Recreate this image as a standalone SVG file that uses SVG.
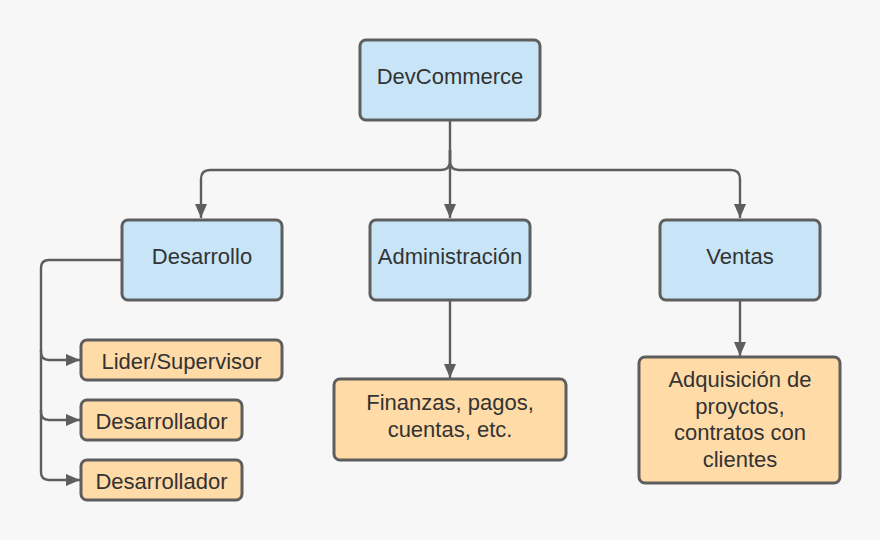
<svg xmlns="http://www.w3.org/2000/svg" width="880" height="540" viewBox="0 0 880 540">
<defs>
<style>
.blue{fill:#c7e5f7;stroke:#5e5e5e;stroke-width:3}
.orange{fill:#ffdba8;stroke:#5e5e5e;stroke-width:3}
.t{font-family:"Liberation Sans",Arial,sans-serif;font-size:22px;fill:#333333;text-anchor:middle}
.c{fill:none;stroke:#5e5e5e;stroke-width:2.4}
</style>
<marker id="ah" viewBox="0 0 14 14" refX="14" refY="7" markerWidth="14" markerHeight="14" markerUnits="userSpaceOnUse" orient="auto">
<path d="M0,1 L14,7 L0,13 Z" fill="#5e5e5e"/>
</marker>
</defs>
<rect width="880" height="540" fill="#f7f7f7"/>
<g id="connectors">
<path class="c" d="M450,121 V218" marker-end="url(#ah)"/>
<path class="c" d="M450,150 V161 Q450,170 441,170 H210 Q201,170 201,179 V218" marker-end="url(#ah)"/>
<path class="c" d="M450,150 V161 Q450,170 459,170 H731 Q740,170 740,179 V218" marker-end="url(#ah)"/>
<path class="c" d="M450,301 V378" marker-end="url(#ah)"/>
<path class="c" d="M740,301 V356" marker-end="url(#ah)"/>
<path class="c" d="M121,260 H49 Q41,260 41,268 V352 Q41,360 49,360 H80" marker-end="url(#ah)"/>
<path class="c" d="M41,350 V412 Q41,420 49,420 H80" marker-end="url(#ah)"/>
<path class="c" d="M41,410 V472 Q41,480 49,480 H80" marker-end="url(#ah)"/>
</g>
<g id="devcommerce">
<rect class="blue" x="360" y="40" width="180" height="80" rx="6"/>
<text class="t" x="450" y="84">DevCommerce</text>
</g>
<g id="desarrollo">
<rect class="blue" x="122" y="220" width="160" height="80" rx="6"/>
<text class="t" x="202" y="264">Desarrollo</text>
</g>
<g id="administracion">
<rect class="blue" x="370" y="220" width="160" height="80" rx="6"/>
<text class="t" x="450" y="264">Administración</text>
</g>
<g id="ventas">
<rect class="blue" x="660" y="220" width="160" height="80" rx="6"/>
<text class="t" x="740" y="264">Ventas</text>
</g>
<g id="lider">
<rect class="orange" x="81" y="340" width="201" height="40" rx="6"/>
<text class="t" x="181.5" y="369">Lider/Supervisor</text>
</g>
<g id="desarrollador1">
<rect class="orange" x="81" y="400" width="161" height="40" rx="6"/>
<text class="t" x="161.5" y="429">Desarrollador</text>
</g>
<g id="desarrollador2">
<rect class="orange" x="81" y="460" width="161" height="40" rx="6"/>
<text class="t" x="161.5" y="489">Desarrollador</text>
</g>
<g id="finanzas">
<rect class="orange" x="334" y="379" width="232" height="81" rx="6"/>
<text class="t" x="450" y="410">Finanzas, pagos,</text>
<text class="t" x="450" y="437">cuentas, etc.</text>
</g>
<g id="adquisicion">
<rect class="orange" x="639" y="357" width="201" height="126" rx="6"/>
<text class="t" x="740" y="387">Adquisición de</text>
<text class="t" x="740" y="414">proyctos,</text>
<text class="t" x="740" y="440">contratos con</text>
<text class="t" x="740" y="467">clientes</text>
</g>
</svg>
